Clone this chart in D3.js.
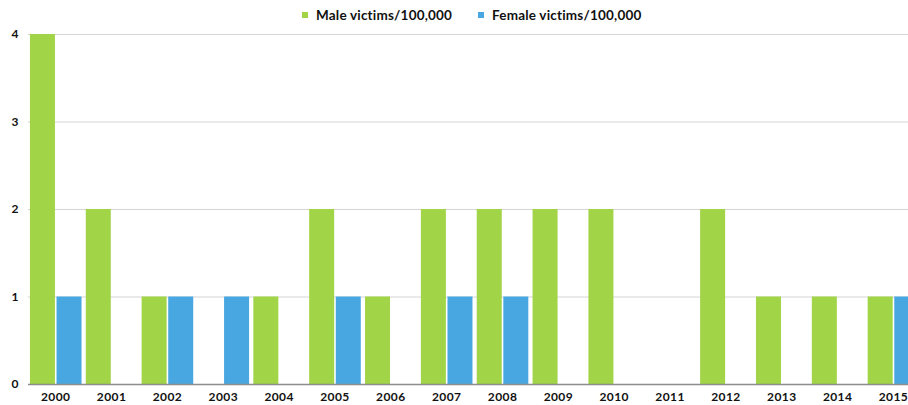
<!DOCTYPE html>
<html>
<head>
<meta charset="utf-8">
<script src="https://cdnjs.cloudflare.com/ajax/libs/d3/7.8.5/d3.min.js"></script>
<style>
  body { margin: 0; background: #fff; overflow: hidden; }
  svg { display: block; }
  text { font-family: Lato, "Open Sans", sans-serif; font-weight: bold; fill: #111; }
</style>
</head>
<body>
<div id="chart"></div>
<script>
var years = ["2000", "2001", "2002", "2003", "2004", "2005", "2006", "2007",
             "2008", "2009", "2010", "2011", "2012", "2013", "2014", "2015"];
var maleVictims   = [4, 2, 1, 0, 1, 2, 1, 2, 2, 2, 2, 0, 2, 1, 1, 1];
var femaleVictims = [1, 0, 1, 1, 0, 1, 0, 1, 1, 0, 0, 0, 0, 0, 0, 1];
var seriesNames = ["Male victims/100,000", "Female victims/100,000"];
var yTicks = [0, 1, 2, 3, 4];

var width = 908, height = 405;
var plotLeft = 28, plotTop = 34, plotBottom = 384;
var step = 55.85;

var svg = d3.select("#chart").append("svg")
    .attr("width", width)
    .attr("height", height);

var keys = ["male", "female"];
var color = d3.scaleOrdinal().domain(keys).range(["#a1d446", "#48a7e0"]);

var data = years.map(function (y, i) {
    return {year: y, male: maleVictims[i], female: femaleVictims[i]};
});

// groups run past the right edge, the original chart is cut off there
var x = d3.scaleBand()
    .domain(years)
    .range([plotLeft - 0.2, plotLeft - 0.2 + step * years.length])
    .padding(0);

var xSub = d3.scaleBand()
    .domain(keys)
    .range([0, x.bandwidth()])
    .paddingInner(0.06)
    .paddingOuter(0.08);

var y = d3.scaleLinear()
    .domain([0, 4])
    .range([plotBottom, plotTop]);

// grid
svg.append("g")
    .selectAll("line")
    .data(yTicks.filter(function (d) { return d > 0; }))
    .enter().append("line")
    .attr("x1", plotLeft)
    .attr("x2", width)
    .attr("y1", function (d) { return y(d) + 0.5; })
    .attr("y2", function (d) { return y(d) + 0.5; })
    .attr("stroke", "#d4d4d4")
    .attr("stroke-width", 1);

// y labels
svg.append("g")
    .selectAll("text")
    .data(yTicks)
    .enter().append("text")
    .attr("x", 15)
    .attr("y", function (d) { return y(d) + 4; })
    .attr("text-anchor", "middle")
    .attr("font-size", 12)
    .text(function (d) { return d; });

// bars
svg.append("g")
    .selectAll("g")
    .data(data)
    .enter().append("g")
    .attr("transform", function (d) { return "translate(" + x(d.year) + ",0)"; })
    .selectAll("rect")
    .data(function (d) {
        return keys.map(function (k) { return {key: k, value: d[k]}; });
    })
    .enter().append("rect")
    .attr("x", function (d) { return xSub(d.key); })
    .attr("y", function (d) { return y(d.value); })
    .attr("width", xSub.bandwidth())
    .attr("height", function (d) { return plotBottom - y(d.value); })
    .attr("fill", function (d) { return color(d.key); });

// baseline
svg.append("line")
    .attr("x1", plotLeft)
    .attr("x2", width)
    .attr("y1", plotBottom + 0.5)
    .attr("y2", plotBottom + 0.5)
    .attr("stroke", "#8c8c8c")
    .attr("stroke-width", 1.5);

// x labels, centred on the group
svg.append("g")
    .selectAll("text")
    .data(years)
    .enter().append("text")
    .attr("x", function (d) { return x(d) + x.bandwidth() / 2; })
    .attr("y", 401)
    .attr("text-anchor", "middle")
    .attr("font-size", 12)
    .attr("letter-spacing", 0.4)
    .text(function (d) { return d; });

// legend
var legendX = [302, 478];
var legend = svg.append("g")
    .selectAll("g")
    .data(keys)
    .enter().append("g")
    .attr("transform", function (d, i) { return "translate(" + legendX[i] + ",0)"; });
legend.append("rect")
    .attr("x", 0)
    .attr("y", 12)
    .attr("width", 6)
    .attr("height", 6)
    .attr("fill", function (d) { return color(d); });
legend.append("text")
    .attr("x", 14)
    .attr("y", 19.5)
    .attr("font-size", 13.5)
    .attr("letter-spacing", 0.2)
    .text(function (d, i) { return seriesNames[i]; });
</script>
</body>
</html>
